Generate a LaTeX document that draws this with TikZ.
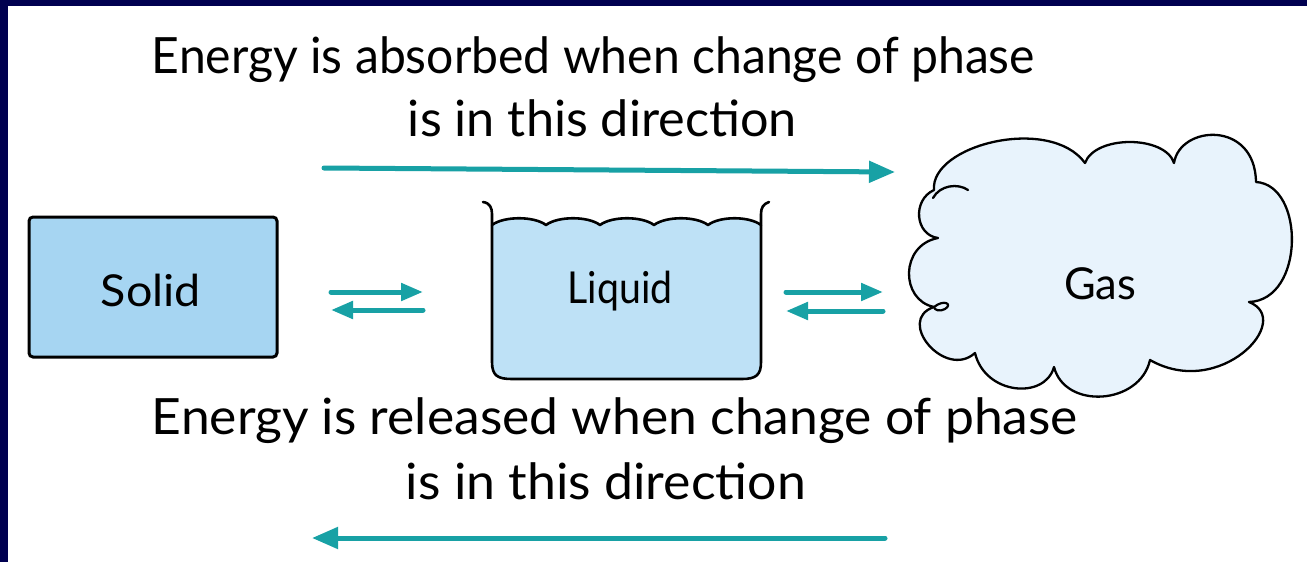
\documentclass[tikz,border=0pt]{standalone}
\usepackage{fontspec}
\usepackage{graphicx}
\setmainfont{Lato}
\usetikzlibrary{arrows.meta}
\definecolor{navy}{RGB}{0,0,80}
\definecolor{teal}{RGB}{24,161,165}
\definecolor{solidfill}{RGB}{166,213,242}
\definecolor{liquidfill}{RGB}{190,225,246}
\definecolor{gasfill}{RGB}{232,243,252}
\newcommand\fitw[3]{\resizebox{#1}{\height}{\fontsize{#2}{#2}\selectfont #3}}
\tikzset{
  txt/.style={inner sep=0pt, anchor=base, text=black},
  bigarrow/.style={draw=teal, line width=5pt, line cap=round, -{Triangle[length=26pt,width=21pt]}},
  smallarrow/.style={draw=teal, line width=5pt, line cap=round, -{Triangle[length=22pt,width=17pt]}},
  outline/.style={draw=black, line width=2.6pt, line join=round, line cap=round},
}
\begin{document}
\begin{tikzpicture}[x=1pt,y=-1pt]
\useasboundingbox (0,0) rectangle (1307,562);
\fill[white] (0,0) rectangle (1307,562);
\fill[navy] (0,0) rectangle (1307,6);
\fill[navy] (0,0) rectangle (8,562);

% texts
\node[txt] (t1) at (593.5,73) {\fitw{883pt}{50}{Energy is absorbed when change of phase}};
\node[txt] (t2) at (602.5,136) {\fitw{389pt}{50}{is in this direction}};
\node[txt] (b1) at (615,434) {\fitw{926pt}{50}{Energy is released when change of phase}};
\node[txt] (b2) at (606,499) {\fitw{400pt}{50}{is in this direction}};

% top and bottom arrows
\coordinate (ta1) at (324,168);
\coordinate (ta2) at (895,172);
\draw[bigarrow] (ta1) -- (ta2);
\coordinate (ba1) at (885,538);
\coordinate (ba2) at (312,538);
\draw[bigarrow] (ba1) -- (ba2);

% Solid
\node[draw=black, line width=3pt, fill=solidfill, rounded corners=4pt,
      minimum width=248pt, minimum height=140pt, inner sep=0pt] (solid) at (153,287) {};
\node[txt] (solidlbl) at (151,306) {\fitw{100pt}{44}{Solid}};

% Liquid container
\fill[liquidfill] (492,225)
  .. controls (504,216) and (534,216) .. (546,225)
  .. controls (558,216) and (588,216) .. (600,225)
  .. controls (612,216) and (642,216) .. (654,225)
  .. controls (666,216) and (696,216) .. (708,225)
  .. controls (720,216) and (749,216) .. (761,225)
  -- (761,362) .. controls (761,375) and (756,379) .. (742,379)
  -- (512,379) .. controls (498,379) and (492,376) .. (492,362) -- cycle;
\draw[outline] (483,202) .. controls (490,203) and (492,208) .. (492,214)
  -- (492,362) .. controls (492,376) and (498,379) .. (512,379)
  -- (742,379) .. controls (756,379) and (761,375) .. (761,362)
  -- (761,214) .. controls (761,208) and (763,204) .. (769,202);
\draw[outline] (492,225)
  .. controls (504,216) and (534,216) .. (546,225)
  .. controls (558,216) and (588,216) .. (600,225)
  .. controls (612,216) and (642,216) .. (654,225)
  .. controls (666,216) and (696,216) .. (708,225)
  .. controls (720,216) and (749,216) .. (761,225);
\node[txt] (liquidlbl) at (620,303) {\fitw{105pt}{44}{Liquid}};

% Gas cloud
\draw[outline, line width=2.3pt, fill=gasfill] (934,190)
  .. controls (930,145) and (1050,115) .. (1085,163)
  .. controls (1095,135) and (1165,135) .. (1174,163)
  .. controls (1180,125) and (1255,120) .. (1256,182)
  .. controls (1305,185) and (1305,300) .. (1249,302)
  .. controls (1295,320) and (1220,400) .. (1150,360)
  .. controls (1140,405) and (1065,410) .. (1054,367)
  .. controls (1045,400) and (985,395) .. (975,353)
  .. controls (945,380) and (895,320) .. (934,307)
  .. controls (900,300) and (900,245) .. (938,238)
  .. controls (915,235) and (912,200) .. (934,190) -- cycle;
\draw[outline, line width=2.3pt] (933,198) .. controls (940,185) and (958,183) .. (968,190);
\draw[outline, line width=2.2pt] (934,307) .. controls (944,299) and (953,304) .. (945,309)
  .. controls (940,312) and (934,310) .. (934,307);
\node[txt] (gaslbl) at (1100,299) {\fitw{72pt}{44}{Gas}};

% equilibrium arrows
\coordinate (l1a) at (331,292);
\coordinate (l1b) at (423,292);
\coordinate (l2a) at (423,310);
\coordinate (l2b) at (331,310);
\draw[smallarrow] (l1a) -- (l1b);
\draw[smallarrow] (l2a) -- (l2b);
\coordinate (r1a) at (786,292);
\coordinate (r1b) at (883,292);
\coordinate (r2a) at (883,311);
\coordinate (r2b) at (786,311);
\draw[smallarrow] (r1a) -- (r1b);
\draw[smallarrow] (r2a) -- (r2b);
\end{tikzpicture}
\end{document}
